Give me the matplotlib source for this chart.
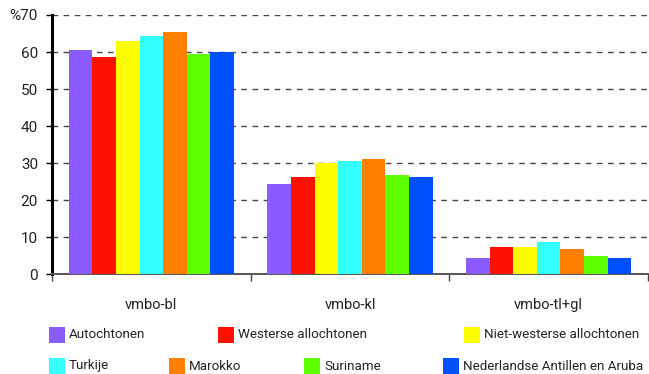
import matplotlib
matplotlib.use("Agg")
import matplotlib.pyplot as plt
from matplotlib.patches import Rectangle
import numpy as np

groups = ["vmbo-bl", "vmbo-kl", "vmbo-tl+gl"]
series = ["Autochtonen", "Westerse allochtonen", "Niet-westerse allochtonen",
          "Turkije", "Marokko", "Suriname", "Nederlandse Antillen en Aruba"]
values = {
    "Autochtonen":                   [60.6, 24.3, 4.4],
    "Westerse allochtonen":          [58.6, 26.2, 7.4],
    "Niet-westerse allochtonen":     [63.1, 30.0, 7.4],
    "Turkije":                       [64.3, 30.6, 8.7],
    "Marokko":                       [65.5, 31.2, 6.9],
    "Suriname":                      [59.4, 26.8, 5.0],
    "Nederlandse Antillen en Aruba": [59.9, 26.2, 4.4],
}
colors = ["#8a5cff", "#ff1100", "#ffff00", "#33ffff", "#ff8000", "#5cff00", "#0050ff"]
yticks = [0, 10, 20, 30, 40, 50, 60, 70]
ytick_labels = ["0", "10", "20", "30", "40", "50", "60", "%70"]

plt.rcParams['font.family'] = ['Roboto', 'DejaVu Sans']

W, H = 649, 374
fig = plt.figure(figsize=(W/100, H/100), dpi=100)
ax = fig.add_axes([52/W, 1-274.3/H, (648-52)/W, (274.3-15)/H])

n = len(series)
bw = 0.119
x = np.arange(len(groups))
for i, s in enumerate(series):
    off = (i - (n-1)/2) * bw
    ax.bar(x + off, values[s], width=bw, color=colors[i], edgecolor='none',
           linewidth=0, zorder=3)

ax.set_xlim(-0.5, len(groups)-0.5)
ax.set_ylim(0, 70)
ax.set_yticks(yticks)
ax.set_yticklabels(ytick_labels, fontsize=11, color='#222222')
ax.yaxis.grid(True, linestyle=(0, (4, 4)), color='#444444', linewidth=1.0, zorder=0)
ax.set_axisbelow(True)

ax.set_xticks([-0.5, 0.5, 1.5, 2.5])
ax.set_xticklabels([])
ax.tick_params(axis='x', length=5, width=1, color='#444444', direction='out')
ax.tick_params(axis='y', length=4, width=1, color='black', direction='out', pad=6)
for g, lab in zip(x, groups):
    ax.text(g, -8.2, lab, ha='center', va='center', fontsize=10.5, color='#222222')

for sp in ['top', 'right']:
    ax.spines[sp].set_visible(False)
ax.spines['left'].set_linewidth(2.2)
ax.spines['left'].set_color('black')
ax.spines['bottom'].set_linewidth(1.4)
ax.spines['bottom'].set_color('#555555')

# legend (manual layout as in the reference)
leg_pos = [(49, 335), (218, 335), (464, 335), (49, 366), (169, 366), (304, 366), (443, 366)]
sq = 16
for i, (s, (px, py)) in enumerate(zip(series, leg_pos)):
    fig.patches.append(Rectangle((px/W, 1-(py+sq/2)/H), sq/W, sq/H,
                                 transform=fig.transFigure, facecolor=colors[i],
                                 edgecolor='none'))
    fig.text((px+sq+4)/W, 1-py/H, s, ha='left', va='center', fontsize=9.6,
             color='#222222')

fig.savefig("out.png", dpi=100)
